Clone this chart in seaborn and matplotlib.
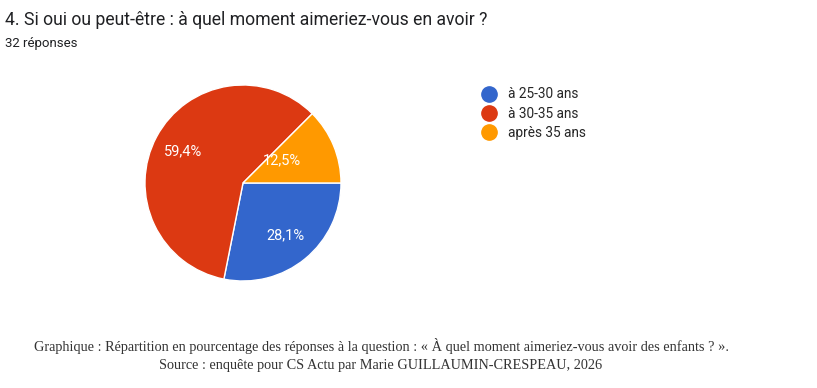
import matplotlib
matplotlib.use("Agg")
import matplotlib.pyplot as plt
from matplotlib.lines import Line2D
import seaborn as sns

CATEGORIES = ["à 25-30 ans", "à 30-35 ans", "après 35 ans"]
COUNTS = [9, 19, 4]
COLORS = ["#3366cc", "#dc3912", "#ff9900"]
TITLE = "4. Si oui ou peut-être : à quel moment aimeriez-vous en avoir ?"
SUBTITLE = "32 réponses"
CAPTION = ("Graphique : Répartition en pourcentage des réponses à la question : "
           "« À quel moment aimeriez-vous avoir des enfants ? ».\n"
           "Source : enquête pour CS Actu par Marie GUILLAUMIN-CRESPEAU, 2026")


def fmt_pct(p):
    return f"{p:.1f}%".replace(".", ",")


def main() -> None:
    sns.set_theme(style="white")
    plt.rcParams["font.family"] = ["Roboto", "DejaVu Sans"]

    fig = plt.figure(figsize=(8.17, 3.88), dpi=100)
    fig.patch.set_facecolor("white")

    ax = fig.add_axes([145 / 817, 1 - 281 / 388, 196 / 817, 196 / 388])
    wedges, texts, autotexts = ax.pie(
        COUNTS, colors=COLORS, startangle=0, counterclock=False,
        autopct=fmt_pct, pctdistance=0.69,
        wedgeprops=dict(edgecolor="white", linewidth=1),
        textprops=dict(color="white", fontsize=10.5),
    )
    # small slice label sits closer to the centre
    x, y = autotexts[2].get_position()
    autotexts[2].set_position((x * 0.62, y * 0.67 + 0.05))
    ax.set_xlim(-1.0, 1.0)
    ax.set_ylim(-1.0, 1.0)
    ax.set_aspect("equal")

    handles = [Line2D([0], [0], marker="o", linestyle="", markersize=11,
                      markerfacecolor=c, markeredgecolor=c) for c in COLORS]
    fig.legend(handles, CATEGORIES, loc="upper left",
               bbox_to_anchor=(475 / 817, 1 - 82 / 388), frameon=False,
               fontsize=9.8, handletextpad=0.85, labelspacing=0.38,
               handlelength=1.2, borderaxespad=0)

    fig.text(5 / 817, 1 - 20 / 388, TITLE, fontsize=12.7, color="#202124",
             va="center", ha="left")
    fig.text(5 / 817, 1 - 43 / 388, SUBTITLE, fontsize=9.5, color="#202124",
             va="center", ha="left")
    fig.text(381 / 817, 1 - 355.5 / 388, CAPTION, fontsize=10.3, color="#333333",
             va="center", ha="center", family=["Liberation Serif"],
             linespacing=1.5)

    fig.savefig("out.png", dpi=100)


if __name__ == "__main__":
    main()
